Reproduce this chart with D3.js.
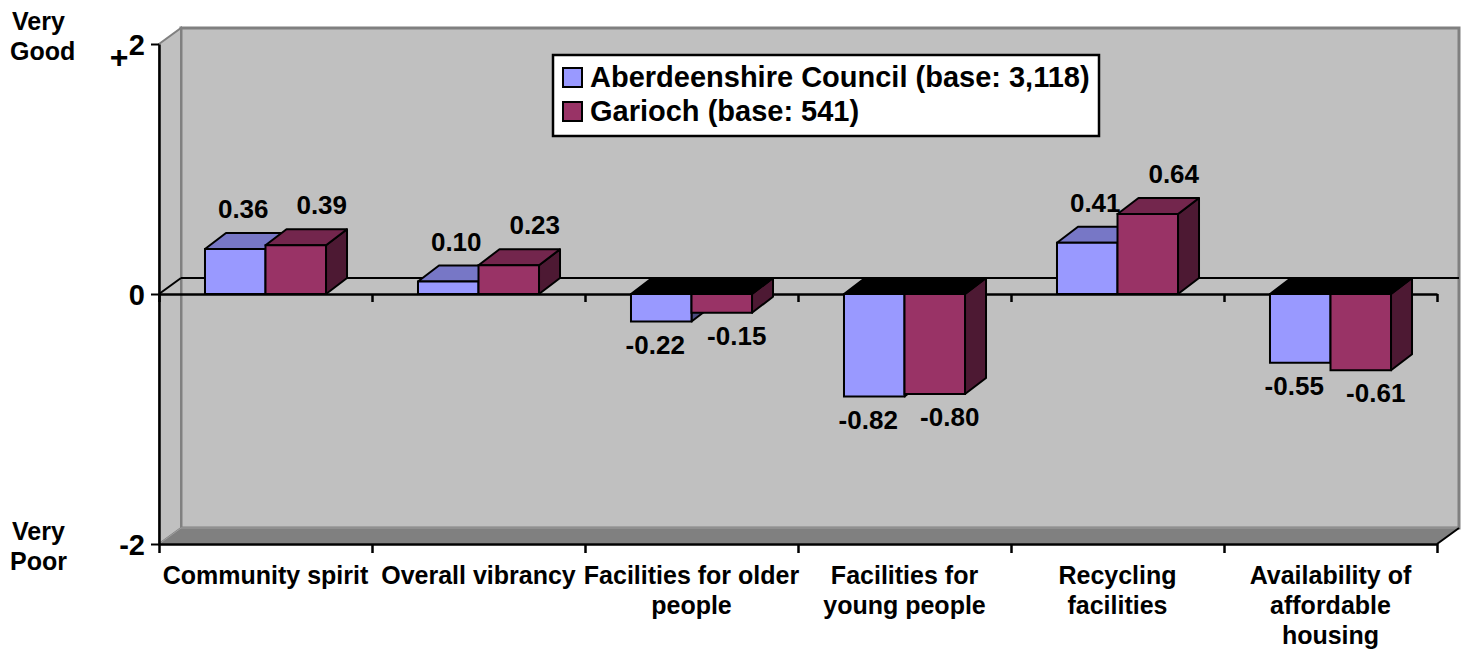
<!DOCTYPE html>
<html>
<head>
<meta charset="utf-8">
<script src="https://cdn.jsdelivr.net/npm/d3@7"></script>
<style>
  body { margin: 0; background: #fff; }
  text { font-family: "Liberation Sans", Arial, sans-serif; font-weight: bold; fill: #000; }
</style>
</head>
<body>
<div id="chart"></div>
<script>
var svgWidth = 1466;
var svgHeight = 654;

// chart data
var categories = ["Community spirit", "Overall vibrancy", "Facilities for older people",
  "Facilities for young people", "Recycling facilities", "Availability of affordable housing"];
var categoryLines = [
  ["Community spirit"],
  ["Overall vibrancy"],
  ["Facilities for older", "people"],
  ["Facilities for", "young people"],
  ["Recycling", "facilities"],
  ["Availability of", "affordable", "housing"]
];
var seriesNames = ["Aberdeenshire Council (base: 3,118)", "Garioch (base: 541)"];
var aberdeenshire = [0.36, 0.10, -0.22, -0.82, 0.41, -0.55];
var garioch = [0.39, 0.23, -0.15, -0.80, 0.64, -0.61];
var yTicks = [-2, 0, 2];
var yTickLabels = ["-2", "0", "2"];

var seriesValues = [aberdeenshire, garioch];

// faces: front, top, side
var colors = [
  { front: "#9999ff", top: "#7777c6", side: "#4d4d80" },
  { front: "#993366", top: "#73264d", side: "#4d1933" }
];

var plot = { left: 159, right: 1437, top: 44, bottom: 544 };
var wallDx = 22, wallDy = -16;
var barDx = 21, barDy = -16;

var svg = d3.select("#chart")
  .append("svg")
  .attr("width", svgWidth)
  .attr("height", svgHeight);

var y = d3.scaleLinear()
  .domain([-2, 2])
  .range([plot.bottom, plot.top]);

var x0 = d3.scaleBand()
  .domain(categories)
  .range([plot.left, plot.right]);

var x1 = d3.scaleBand()
  .domain([0, 1])
  .range([0, x0.bandwidth()])
  .paddingOuter(0.76);

var xEdge = d3.scaleLinear()
  .domain([0, categories.length])
  .range([plot.left, plot.right]);

// back wall
svg.append("rect")
  .attr("x", plot.left + wallDx)
  .attr("y", plot.top + wallDy)
  .attr("width", plot.right - plot.left)
  .attr("height", plot.bottom - plot.top)
  .attr("fill", "#c0c0c0")
  .attr("stroke", "#808080")
  .attr("stroke-width", 3);

// side wall
svg.append("polygon")
  .attr("points", [
    [plot.left, plot.top], [plot.left + wallDx, plot.top + wallDy],
    [plot.left + wallDx, plot.bottom + wallDy], [plot.left, plot.bottom]
  ].join(" "))
  .attr("fill", "#c0c0c0")
  .attr("stroke", "#808080")
  .attr("stroke-width", 2);

// floor
svg.append("polygon")
  .attr("points", [
    [plot.left, plot.bottom], [plot.right, plot.bottom],
    [plot.right + wallDx, plot.bottom + wallDy], [plot.left + wallDx, plot.bottom + wallDy]
  ].join(" "))
  .attr("fill", "#808080")
  .attr("stroke", "#a0a0a0")
  .attr("stroke-width", 1);

svg.append("line")
  .attr("x1", plot.right).attr("y1", plot.bottom)
  .attr("x2", plot.right + wallDx).attr("y2", plot.bottom + wallDy)
  .attr("stroke", "#000").attr("stroke-width", 2);

// zero plane lines
var y0 = y(0);
svg.append("line")
  .attr("x1", plot.left + wallDx).attr("y1", y0 + wallDy)
  .attr("x2", plot.right + wallDx).attr("y2", y0 + wallDy)
  .attr("stroke", "#000").attr("stroke-width", 2);
svg.append("line")
  .attr("x1", plot.left).attr("y1", y0)
  .attr("x2", plot.left + wallDx).attr("y2", y0 + wallDy)
  .attr("stroke", "#000").attr("stroke-width", 2);

// category axes at 0 and at -2
function edgeAxis(size) {
  return d3.axisBottom(xEdge)
    .tickValues(d3.range(categories.length + 1))
    .tickFormat("")
    .tickSize(size)
    .tickSizeOuter(0);
}

[[0, 8], [-2, 9]].forEach(function(a) {
  var g = svg.append("g")
    .attr("transform", `translate(0, ${y(a[0])})`)
    .call(edgeAxis(a[1]));
  g.select(".domain").attr("stroke", "#000").attr("stroke-width", 2.5);
  g.selectAll(".tick line").attr("stroke", "#000").attr("stroke-width", 2.5);
});

// y axis
var yAxis = svg.append("g")
  .attr("transform", `translate(${plot.left}, 0)`)
  .call(d3.axisLeft(y)
    .tickValues(yTicks)
    .tickFormat(function(d, i) { return yTickLabels[i]; })
    .tickSize(8)
    .tickSizeOuter(0)
    .tickPadding(6));
yAxis.select(".domain").attr("stroke", "#000").attr("stroke-width", 2.5);
yAxis.selectAll(".tick line").attr("stroke", "#000").attr("stroke-width", 2);
yAxis.selectAll(".tick text")
  .attr("font-size", 29)
  .attr("dy", "0.35em")
  .attr("fill", "#000");

svg.append("text")
  .attr("x", 119)
  .attr("y", 68)
  .attr("text-anchor", "middle")
  .attr("font-size", 32)
  .text("+");

// end labels
[["Very", "Good", 30], ["Very", "Poor", 540]].forEach(function(l) {
  var t = svg.append("text")
    .attr("x", 12)
    .attr("y", l[2])
    .attr("font-size", 25);
  t.append("tspan").attr("x", 12).text(l[0]);
  t.append("tspan").attr("x", 10).attr("dy", 30).text(l[1]);
});

// bars
var labelShiftPos = [8, 26];
var labelShiftNeg = [-6, 15];

categories.forEach(function(cat, ci) {
  seriesValues.forEach(function(vals, si) {
    var v = vals[ci];
    var xa = x0(cat) + x1(si);
    var xb = xa + x1.bandwidth();
    var yTop = y(Math.max(v, 0));
    var yBot = y(Math.min(v, 0));
    var c = colors[si];
    var g = svg.append("g");

    g.append("polygon")
      .attr("points", [[xb, yTop], [xb + barDx, yTop + barDy], [xb + barDx, yBot + barDy], [xb, yBot]].join(" "))
      .attr("fill", c.side)
      .attr("stroke", "#000").attr("stroke-width", 2).attr("stroke-linejoin", "round");

    g.append("polygon")
      .attr("points", [[xa, yTop], [xb, yTop], [xb + barDx, yTop + barDy], [xa + barDx, yTop + barDy]].join(" "))
      .attr("fill", v < 0 ? "#000" : c.top)
      .attr("stroke", "#000").attr("stroke-width", 2).attr("stroke-linejoin", "round");

    g.append("rect")
      .attr("x", xa)
      .attr("y", yTop)
      .attr("width", xb - xa)
      .attr("height", yBot - yTop)
      .attr("fill", c.front)
      .attr("stroke", "#000").attr("stroke-width", 2);

    var cx = (xa + xb) / 2;
    svg.append("text")
      .attr("class", "value-label")
      .attr("x", cx + (v < 0 ? labelShiftNeg[si] : labelShiftPos[si]))
      .attr("y", v < 0 ? yBot + 32 : yTop - 31)
      .attr("text-anchor", "middle")
      .attr("font-size", 26)
      .text(v.toFixed(2));
  });
});

// make sure labels sit above every bar
svg.selectAll(".value-label").raise();

// category labels
categoryLines.forEach(function(lines, ci) {
  var cx = x0(categories[ci]) + x0.bandwidth() / 2;
  var t = svg.append("text")
    .attr("x", cx)
    .attr("y", 584)
    .attr("text-anchor", "middle")
    .attr("font-size", 25);
  lines.forEach(function(line, li) {
    t.append("tspan")
      .attr("x", cx)
      .attr("dy", li === 0 ? 0 : 30)
      .text(line);
  });
});

// legend
var legend = svg.append("g");
legend.append("rect")
  .attr("x", 553)
  .attr("y", 55)
  .attr("width", 546)
  .attr("height", 81)
  .attr("fill", "#fff")
  .attr("stroke", "#000")
  .attr("stroke-width", 2.5);

seriesNames.forEach(function(name, i) {
  var rowY = 68 + i * 34;
  legend.append("rect")
    .attr("x", 563)
    .attr("y", rowY)
    .attr("width", 19)
    .attr("height", 19)
    .attr("fill", colors[i].front)
    .attr("stroke", "#000")
    .attr("stroke-width", 2);
  legend.append("text")
    .attr("x", 590)
    .attr("y", rowY + 19)
    .attr("font-size", 29)
    .text(name);
});
</script>
</body>
</html>
